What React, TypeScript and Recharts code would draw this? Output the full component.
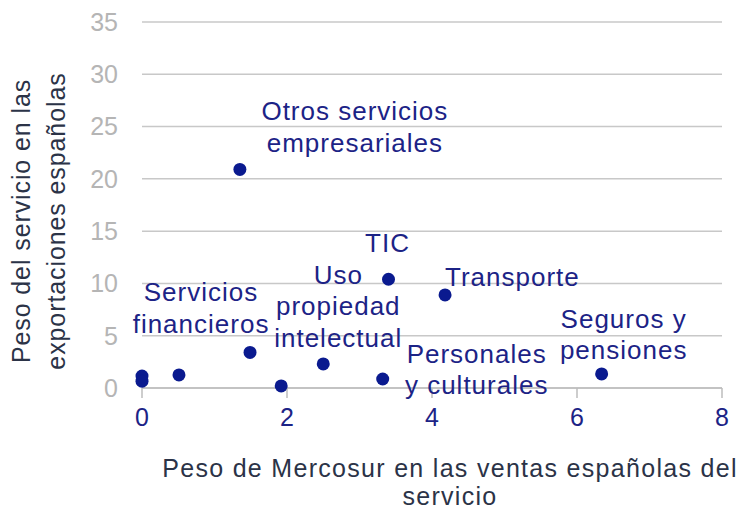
import React from 'react';
import {
  ScatterChart,
  Scatter,
  XAxis,
  YAxis,
  CartesianGrid,
  LabelList,
  Label,
} from 'recharts';

// Peso de Mercosur en las ventas españolas del servicio (%)
const mercosurShare = [1.35, 3.4, 4.18, 1.49, 2.5, 3.32, 6.34, 0, 0, 0.51, 1.92];
// Peso del servicio en las exportaciones españolas (%)
const exportShare = [20.9, 10.4, 8.9, 3.4, 2.3, 0.86, 1.35, 1.15, 0.65, 1.25, 0.2];
// etiquetas (vacías = punto sin etiqueta)
const serviceLabels = [
  ['Otros servicios', 'empresariales'],
  ['TIC'],
  ['Transporte'],
  ['Servicios', 'financieros'],
  ['Uso', 'propiedad', 'intelectual'],
  ['Personales', 'y culturales'],
  ['Seguros y', 'pensiones'],
  [],
  [],
  [],
  [],
];
const xTicks = [0, 2, 4, 6, 8];
const yTicks = [0, 5, 10, 15, 20, 25, 30, 35];

// where each label sits relative to its dot
const labelPlacement: Record<string, { dx: number; dy: number; anchor: string }> = {
  'Otros servicios': { dx: 115, dy: -56, anchor: 'middle' },
  TIC: { dx: -1, dy: -34, anchor: 'middle' },
  Transporte: { dx: 0, dy: -16, anchor: 'start' },
  Servicios: { dx: -49, dy: -58, anchor: 'middle' },
  Uso: { dx: 15, dy: -87, anchor: 'middle' },
  Personales: { dx: 94, dy: -23, anchor: 'middle' },
  'Seguros y': { dx: 22, dy: -53, anchor: 'middle' },
};

const data = mercosurShare.map((x, i) => ({
  x,
  y: exportShare[i],
  label: serviceLabels[i].join('|'),
}));

const NAVY = '#0a1a8f';
const TEXT_BLUE = '#1c2386';
const TITLE = '#2b3347';
const FONT = '"Liberation Sans", Arial, sans-serif';

const PointLabel = (props: any) => {
  const { x, y, width, height, value } = props;
  if (!value) return null;
  const lines = String(value).split('|');
  const place = labelPlacement[lines[0]];
  if (!place) return null;
  const cx = x + width / 2;
  const cy = y + height / 2;
  return (
    <text
      x={cx + place.dx}
      textAnchor={place.anchor as any}
      fill={TEXT_BLUE}
      fontSize={26}
      letterSpacing={1}
      fontFamily={FONT}
    >
      {lines.map((l, i) => (
        <tspan key={i} x={cx + place.dx} y={cy + place.dy + i * 31.5} dominantBaseline="middle">
          {l}
        </tspan>
      ))}
    </text>
  );
};

const XTitle = (props: any) => {
  const { viewBox } = props;
  const cx = viewBox.x + viewBox.width / 2 + 18;
  return (
    <text textAnchor="middle" fill={TITLE} fontSize={25} letterSpacing={1.3} fontFamily={FONT}>
      <tspan x={cx} y={470} dominantBaseline="middle">Peso de Mercosur en las ventas españolas del</tspan>
      <tspan x={cx} y={498} dominantBaseline="middle">servicio</tspan>
    </text>
  );
};

const Dot = (props: any) => <circle cx={props.cx} cy={props.cy} r={6.5} fill={NAVY} />;

export default function App() {
  return (
    <div style={{ position: 'absolute', left: 0, top: 0, width: 742, height: 510, background: '#fff' }}>
      <ScatterChart width={742} height={510} margin={{ top: 22, right: 20, bottom: 0, left: 0 }}>
        <CartesianGrid horizontal vertical={false} stroke="#c8c8c8" strokeWidth={1.5} />
        <XAxis
          type="number"
          dataKey="x"
          domain={[0, 8]}
          ticks={xTicks}
          height={122}
          axisLine={{ stroke: '#bdbdbd', strokeWidth: 1.5 }}
          tickLine={{ stroke: '#bdbdbd', strokeWidth: 1.5 }}
          tickSize={10}
          tickMargin={10}
          tick={{ fill: TEXT_BLUE, fontSize: 25, fontFamily: FONT }}
        >
          <Label content={<XTitle />} />
        </XAxis>
        <YAxis
          type="number"
          dataKey="y"
          domain={[0, 35]}
          ticks={yTicks}
          width={142}
          axisLine={false}
          tickLine={false}
          tickSize={0}
          tickMargin={24}
          tick={{ fill: '#b5b5b5', fontSize: 25, fontFamily: FONT }}
        />
        <Scatter data={data} shape={<Dot />} isAnimationActive={false}>
          <LabelList dataKey="label" content={<PointLabel />} />
        </Scatter>
      </ScatterChart>
      <svg
        width={90}
        height={510}
        style={{ position: 'absolute', left: 0, top: 0, pointerEvents: 'none' }}
      >
        <text
          textAnchor="middle"
          fill={TITLE}
          fontSize={25}
          letterSpacing={0.9}
          fontFamily={FONT}
          transform="translate(23, 221) rotate(-90)"
        >
          <tspan x={0} y={0} dominantBaseline="middle">Peso del servicio en las</tspan>
          <tspan x={0} y={35} dominantBaseline="middle">exportaciones españolas</tspan>
        </text>
      </svg>
    </div>
  );
}
